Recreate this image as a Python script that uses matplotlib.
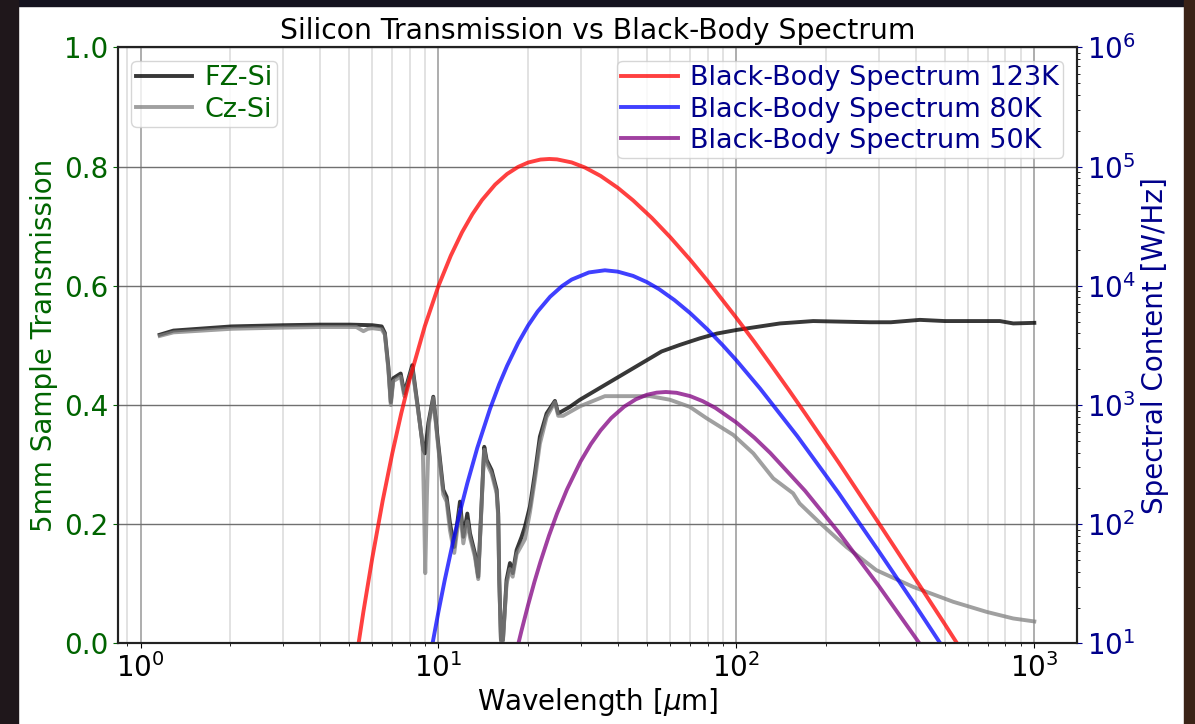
import matplotlib
matplotlib.use("Agg")
from matplotlib import pyplot as plt
from matplotlib.patches import Rectangle

plt.rcParams["font.family"] = ["DejaVu Sans"]
plt.rcParams["mathtext.fontset"] = "dejavusans"

# Transmission of 5 mm silicon samples (float-zone and Czochralski)
fz_wavelength = [1.16, 1.29, 2.02, 3.0, 4.0, 5.05, 6.0, 6.45, 6.61, 6.79, 6.92, 7.05,
                 7.47, 7.68, 8.17, 8.55, 8.89, 9.01, 9.25, 9.61, 9.98, 10.38, 10.65,
                 10.93, 11.3, 11.81, 12.12, 12.5, 12.76, 13.26, 13.6, 14.07, 14.25,
                 14.51, 15.08, 15.68, 15.87, 16.0, 16.21, 16.46, 16.93, 17.38, 17.75,
                 18.3, 19.02, 19.51, 20.28, 21.08, 21.9, 23.07, 24.6, 25.23, 27.6,
                 29.85, 56.1, 64.6, 75.4, 86, 100, 140, 181, 281, 330, 413, 500, 766,
                 850, 1000]
fz_transmission = [0.518, 0.525, 0.532, 0.534, 0.535, 0.535, 0.534, 0.532, 0.521, 0.464,
                   0.405, 0.445, 0.453, 0.420, 0.467, 0.392, 0.325, 0.319, 0.370, 0.414,
                   0.336, 0.258, 0.246, 0.202, 0.162, 0.238, 0.179, 0.218, 0.185, 0.151,
                   0.112, 0.274, 0.330, 0.308, 0.291, 0.258, 0.218, 0.107, 0.006, 0.006,
                   0.107, 0.135, 0.118, 0.157, 0.179, 0.196, 0.230, 0.286, 0.347, 0.386,
                   0.407, 0.386, 0.397, 0.409, 0.490, 0.501, 0.512, 0.520, 0.526, 0.537,
                   0.541, 0.539, 0.539, 0.543, 0.541, 0.541, 0.537, 0.538]

cz_wavelength = [1.16, 1.29, 2.02, 3.0, 4.0, 5.3, 5.6, 5.8, 6.0, 6.45, 6.61, 6.79, 6.92,
                 7.05, 7.47, 7.68, 8.17, 8.55, 8.85, 8.95, 9.03, 9.15, 9.3, 9.61, 9.98,
                 10.38, 10.65, 10.93, 11.3, 11.81, 12.12, 12.5, 12.76, 13.26, 13.6, 14.07,
                 14.25, 14.51, 15.08, 15.68, 15.87, 16.0, 16.21, 16.46, 16.93, 17.38,
                 17.75, 18.3, 19.02, 19.51, 20.28, 21.08, 21.9, 23.07, 24.6, 25.23, 26.2,
                 29.85, 36.2, 51.3, 59.8, 69.8, 79.4, 97.6, 114, 133, 155, 163, 191, 234,
                 295, 392, 534, 692, 849, 1000]
cz_transmission = [0.516, 0.522, 0.528, 0.530, 0.531, 0.531, 0.524, 0.528, 0.529, 0.527,
                   0.518, 0.460, 0.400, 0.440, 0.448, 0.415, 0.462, 0.390, 0.335, 0.224,
                   0.118, 0.250, 0.370, 0.412, 0.330, 0.250, 0.238, 0.190, 0.152, 0.225,
                   0.168, 0.205, 0.178, 0.145, 0.108, 0.270, 0.325, 0.303, 0.285, 0.252,
                   0.212, 0.105, 0.004, 0.004, 0.100, 0.125, 0.112, 0.150, 0.165, 0.175,
                   0.220, 0.275, 0.335, 0.380, 0.405, 0.382, 0.382, 0.398, 0.415, 0.415,
                   0.409, 0.397, 0.378, 0.350, 0.319, 0.277, 0.252, 0.235, 0.202, 0.162,
                   0.123, 0.095, 0.070, 0.053, 0.042, 0.037]

# Black-body spectral content [W/Hz] at 123 K, 80 K and 50 K
bb123_wavelength = [5.3, 5.4, 5.6, 6.0, 6.5, 7.0, 7.5, 8.0, 9.0, 10.0, 11.0, 12.0, 13.0,
                    14.0, 15.5, 17.0, 18.5, 20.0, 22.0, 23.56, 25.0, 28.0, 31.0, 35.0,
                    40.0, 45.0, 52.0, 60.0, 70.0, 80.0, 100, 115, 130, 150, 170, 220, 300,
                    400, 500, 560]
bb123_power = [7.45, 10.2, 18.5, 52.5, 158, 394, 851, 1633, 4592, 9977, 17920, 28180,
               39970, 52480, 70800, 86900, 99500, 108400, 114800, 116100, 115200, 108600,
               98500, 83750, 66460, 52190, 37210, 25590, 16540, 11040, 5395, 3381, 2213,
               1338, 853, 332, 103, 34.4, 14.6, 9.38]

bb80_wavelength = [9.5, 10.0, 10.5, 11.21, 11.8, 12.5, 13.5, 14.89, 16.0, 17.0, 18.5,
                   20.0, 21.5, 23.7, 26.0, 28.0, 32.0, 36.2, 40.0, 45.0, 50.0, 55.0, 62.0,
                   70.0, 80.0, 90.0, 100, 120, 160, 220, 300, 400, 490]
bb80_power = [9.27, 18.5, 34.1, 72.6, 125.6, 221, 437, 927, 1497, 2138, 3309, 4656, 6078,
              8110, 9972, 11300, 12970, 13520, 13170, 12130, 10780, 9397, 7593, 5902,
              4309, 3177, 2373, 1380, 550, 184, 59.8, 20.6, 9.53]

bb50_wavelength = [18.0, 18.5, 19.0, 20.0, 21.0, 22.0, 23.5, 25.0, 27.0, 30.0, 32.5, 35.0,
                   38.0, 42.0, 46.0, 50.0, 54.0, 58.0, 63.0, 70.0, 77.0, 85.0, 100, 115,
                   130, 170, 220, 300, 400, 420]
bb50_power = [7.24, 9.73, 12.8, 21.1, 32.9, 48.5, 80.4, 123, 196, 337, 472, 613, 778, 970,
              1119, 1219, 1272, 1288, 1268, 1189, 1080, 948, 714, 532, 396, 191, 86.1,
              30.6, 11.1, 9.31]

fig = plt.figure(figsize=(11.95, 7.24), dpi=100, facecolor="white")

# dark frame around the white canvas
fig.patches.append(Rectangle((0, 0.9917), 1, 0.0083, transform=fig.transFigure,
                             color="#14131e", zorder=-10))
fig.patches.append(Rectangle((0, 0), 0.0151, 1, transform=fig.transFigure,
                             color="#1f171b", zorder=-10))
fig.patches.append(Rectangle((0.9908, 0), 0.0092, 1, transform=fig.transFigure,
                             color="#3b2317", zorder=-10))

ax = fig.add_axes([0.0987, 0.1112, 0.8025, 0.8232])
ax2 = ax.twinx()

ax.plot(fz_wavelength, fz_transmission, color="k", alpha=0.78, lw=2.8, label="FZ-Si")
ax.plot(cz_wavelength, cz_transmission, color="gray", alpha=0.75, lw=2.8, label="Cz-Si")

ax2.plot(bb123_wavelength, bb123_power, color="red", alpha=0.75, lw=2.8,
         label="Black-Body Spectrum 123K")
ax2.plot(bb80_wavelength, bb80_power, color="blue", alpha=0.75, lw=2.8,
         label="Black-Body Spectrum 80K")
ax2.plot(bb50_wavelength, bb50_power, color="purple", alpha=0.75, lw=2.8,
         label="Black-Body Spectrum 50K")

ax.set_xscale("log")
ax.set_xlim(0.84, 1390)
ax.set_ylim(0, 1)
ax.set_yticks([0.0, 0.2, 0.4, 0.6, 0.8, 1.0])
ax2.set_yscale("log")
ax2.set_ylim(1e1, 1e6)

ax.grid(which="major", axis="x", color="#a0a0a0", lw=1.2)
ax.grid(which="minor", axis="x", color="#dddddd", lw=1.2)
ax.grid(which="major", axis="y", color="#707070", lw=1.0)

for a in (ax, ax2):
    for s in a.spines.values():
        s.set_linewidth(1.5)
        s.set_color("#222222")

ax.tick_params(axis="x", labelsize=20, colors="black")
ax.tick_params(axis="y", labelsize=20, colors="darkgreen")
ax2.tick_params(axis="y", which="major", labelsize=20, colors="darkblue")

ax.set_title("Silicon Transmission vs Black-Body Spectrum", fontsize=20.3)
ax.set_xlabel(r"Wavelength [$\mu$m]", fontsize=20, labelpad=2)
ax.set_ylabel("5mm Sample Transmission", fontsize=20, color="darkgreen")
ax2.set_ylabel("Spectral Content [W/Hz]", fontsize=20, color="darkblue")

legend_style = dict(fontsize=19.5, borderpad=0.15, labelspacing=0.2, handletextpad=0.45,
                    handlelength=2.1)
leg1 = ax.legend(loc="upper left", **legend_style)
for t in leg1.get_texts():
    t.set_color("darkgreen")
leg2 = ax2.legend(loc="upper right", **legend_style)
for t in leg2.get_texts():
    t.set_color("darkblue")

fig.savefig("out.png", dpi=100)
